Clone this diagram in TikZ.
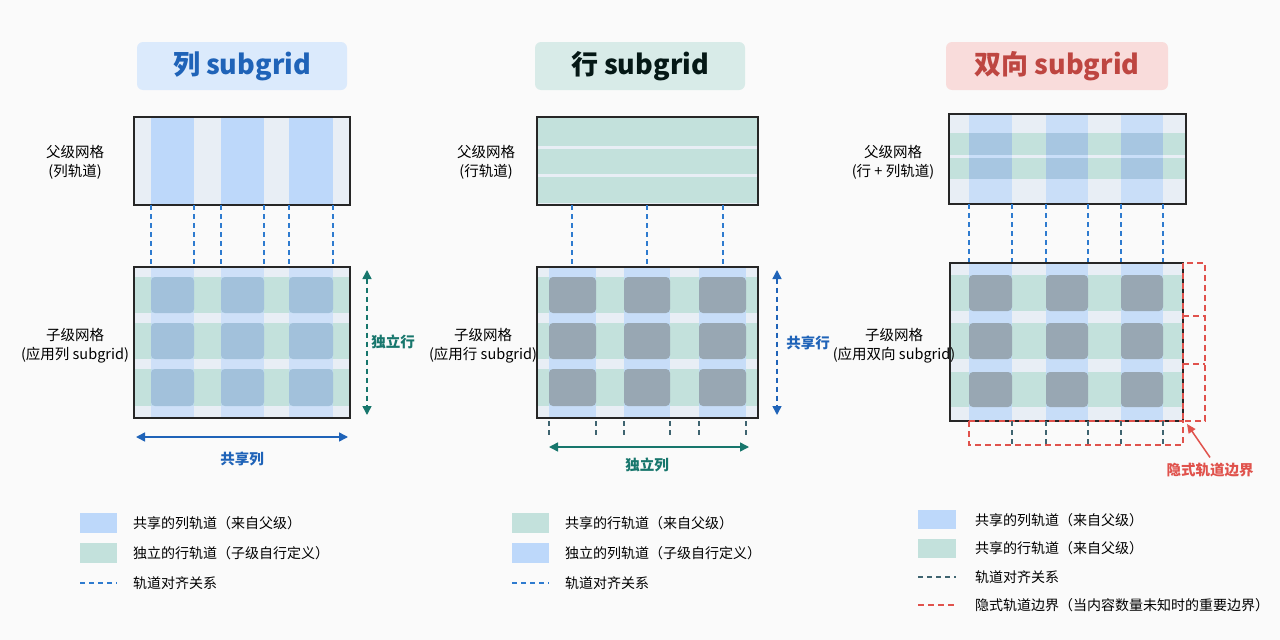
\documentclass[tikz,border=0pt]{standalone}
\usepackage{fontspec}
\setmainfont{Noto Sans CJK SC}
\usetikzlibrary{arrows.meta}
\definecolor{colblue}{HTML}{BDD8FA}
\definecolor{rowgreen}{HTML}{C3E1DC}
\definecolor{gridbg}{HTML}{E8EEF5}
\definecolor{cellblue}{HTML}{A2C1DB}
\definecolor{cellgrey}{HTML}{98A7B3}
\definecolor{linkblue}{HTML}{2E7BCF}
\definecolor{darkblue}{HTML}{1F63B8}
\definecolor{teal}{HTML}{17766C}
\definecolor{implred}{HTML}{E0524C}
\definecolor{tickgrey}{HTML}{3F6470}
\tikzset{
  title/.style={rounded corners=6pt, minimum width=210pt, minimum height=48pt, font=\fontsize{27}{30}\selectfont\bfseries},
  lbl/.style={font=\fontsize{14.5}{19}\selectfont, align=center},
  leg/.style={font=\fontsize{14}{16}\selectfont, anchor=west, inner sep=0pt},
  frame/.style={draw=black!85, line width=1.3pt},
  link/.style={draw=linkblue, line width=1.5pt, dash pattern=on 5pt off 4pt},
  tick/.style={draw=tickgrey, line width=1.4pt, dash pattern=on 5pt off 4pt},
  impl/.style={draw=implred, line width=1.5pt, dash pattern=on 6pt off 4pt},
  cell/.style={rounded corners=4pt},
}
\begin{document}
\begin{tikzpicture}[x=1pt,y=-1pt]
\useasboundingbox (0,0) rectangle (1280,640);
\fill[black!2] (0,0) rectangle (1280,640);

%% ---------- panel 1: column subgrid
\node[title, fill=colblue!55, text=darkblue] (t1) at (242,66) {列 subgrid};
% parent
\fill[gridbg] (134,117) rectangle (350,205);
\foreach \a/\b in {151/194,221/264,289/333} \fill[colblue] (\a,117) rectangle (\b,205);
\draw[frame] (134,117) rectangle (350,205);
\foreach \x in {151,194,221,264,289,333} \draw[link] (\x,205) -- (\x,267);
% child
\fill[gridbg] (134,267) rectangle (350,418);
\foreach \r/\s in {277/313,323/359,369/406} \fill[rowgreen] (134,\r) rectangle (350,\s);
\foreach \a/\b in {151/194,221/264,289/333} \fill[colblue, opacity=.6] (\a,267) rectangle (\b,418);
\foreach \a/\b in {151/194,221/264,289/333}
  \foreach \r/\s in {277/313,323/359,369/406} \fill[cellblue, cell] (\a,\r) rectangle (\b,\s);
\draw[frame] (134,267) rectangle (350,418);
\node[lbl] (p1) at (75,162) {父级网格\\(列轨道)};
\node[lbl] (c1) at (75,346) {子级网格\\(应用列 subgrid)};
\coordinate (v1a) at (367,270); \coordinate (v1b) at (367,415);
\draw[teal, line width=1.5pt, dash pattern=on 5pt off 4pt, {Triangle[length=9pt,width=9pt]}-{Triangle[length=9pt,width=9pt]}] (v1a) -- (v1b);
\node[font=\fontsize{14.5}{17}\selectfont\bfseries, text=teal] (n1) at (393,342) {独立行};
\coordinate (h1a) at (136,437); \coordinate (h1b) at (348,437);
\draw[darkblue, line width=1.5pt, {Triangle[length=9pt,width=9pt]}-{Triangle[length=9pt,width=9pt]}] (h1a) -- (h1b);
\node[font=\fontsize{14.5}{17}\selectfont\bfseries, text=darkblue] (m1) at (242,459) {共享列};

%% ---------- panel 2: row subgrid
\node[title, fill=rowgreen!65, text=black!80!teal] (t2) at (640,66) {行 subgrid};
% parent
\fill[gridbg] (537,117) rectangle (758,205);
\foreach \r/\s in {118/146,149/174,177/203} \fill[rowgreen] (537,\r) rectangle (758,\s);
\draw[frame] (537,117) rectangle (758,205);
\foreach \x in {572,647,723} \draw[link] (\x,205) -- (\x,267);
% child
\fill[gridbg] (537,267) rectangle (758,418);
\foreach \r/\s in {277/313,323/359,369/406} \fill[rowgreen] (537,\r) rectangle (758,\s);
\foreach \a/\b in {549/596,624/670,699/746} \fill[colblue, opacity=.75] (\a,267) rectangle (\b,418);
\foreach \a/\b in {549/596,624/670,699/746}
  \foreach \r/\s in {277/313,323/359,369/406} \fill[cellgrey, cell] (\a,\r) rectangle (\b,\s);
\draw[frame] (537,267) rectangle (758,418);
\foreach \x in {549,596,624,670,699,746} \draw[tick] (\x,421) -- (\x,436);
\node[lbl] (p2) at (486,162) {父级网格\\(行轨道)};
\node[lbl] (c2) at (483,346) {子级网格\\(应用行 subgrid)};
\coordinate (v2a) at (777,270); \coordinate (v2b) at (777,415);
\draw[darkblue, line width=1.5pt, dash pattern=on 5pt off 4pt, {Triangle[length=9pt,width=9pt]}-{Triangle[length=9pt,width=9pt]}] (v2a) -- (v2b);
\node[font=\fontsize{14.5}{17}\selectfont\bfseries, text=darkblue] (n2) at (808,343) {共享行};
\coordinate (h2a) at (549,447); \coordinate (h2b) at (749,447);
\draw[teal, line width=1.5pt, {Triangle[length=9pt,width=9pt]}-{Triangle[length=9pt,width=9pt]}] (h2a) -- (h2b);
\node[font=\fontsize{14.5}{17}\selectfont\bfseries, text=teal] (m2) at (647,465) {独立列};

%% ---------- panel 3: both directions
\node[title, minimum width=222pt, fill=implred!20, text=implred!85!black] (t3) at (1057,66) {双向 subgrid};
% parent
\fill[gridbg] (949,114) rectangle (1186,204);
\foreach \r/\s in {133/155,158/179} \fill[rowgreen] (949,\r) rectangle (1186,\s);
\foreach \a/\b in {969/1012,1046/1088,1121/1163} \fill[colblue, opacity=.7] (\a,114) rectangle (\b,204);
\foreach \a/\b in {969/1012,1046/1088,1121/1163}
  \foreach \r/\s in {133/155,158/179} \fill[cellblue!80!colblue] (\a,\r) rectangle (\b,\s);
\draw[frame] (949,114) rectangle (1186,204);
\foreach \x in {969,1012,1046,1088,1121,1163} \draw[link] (\x,204) -- (\x,263);
% child
\fill[gridbg] (950,263) rectangle (1183,421);
\foreach \r/\s in {275/311,323/359,372/407} \fill[rowgreen] (950,\r) rectangle (1183,\s);
\foreach \a/\b in {969/1012,1046/1088,1121/1163} \fill[colblue, opacity=.75] (\a,263) rectangle (\b,421);
\foreach \a/\b in {969/1012,1046/1088,1121/1163}
  \foreach \r/\s in {275/311,323/359,372/407} \fill[cellgrey, cell] (\a,\r) rectangle (\b,\s);
\draw[frame] (950,263) rectangle (1183,421);
% implicit tracks
\draw[impl] (1183,263) rectangle (1205,421);
\foreach \y in {316,364} \draw[impl] (1183,\y) -- (1205,\y);
\draw[impl] (969,421) rectangle (1183,445);
\foreach \x in {1012,1046,1088,1121,1163} \draw[tick] (\x,421) -- (\x,445);
\node[lbl] (p3) at (893,162) {父级网格\\(行 + 列轨道)};
\node[lbl] (c3) at (894,346) {子级网格\\(应用双向 subgrid)};
\node[font=\fontsize{14.5}{17}\selectfont\bfseries, text=implred] (m3) at (1210,470) {隐式轨道边界};
\coordinate (imp) at (1187,424);
\draw[implred, line width=1.5pt, -{Triangle[length=9pt,width=8pt]}] (m3.north) ++(0,-2) -- (imp);

%% ---------- legends
\foreach \x/\ca/\ta/\cb/\tb in {80/colblue/共享的列轨道（来自父级）/rowgreen/独立的行轨道（子级自行定义）,
                                512/rowgreen/共享的行轨道（来自父级）/colblue/独立的列轨道（子级自行定义）}{
  \fill[\ca] (\x,513) rectangle ++(37,20);
  \node[leg] at (\x+53,523) {\ta};
  \fill[\cb] (\x,543) rectangle ++(37,20);
  \node[leg] at (\x+53,553) {\tb};
  \draw[link] (\x,583) -- ++(37,0);
  \node[leg] at (\x+53,583) {轨道对齐关系};
}
\fill[colblue] (918,510) rectangle (956,529);
\node[leg] (l31) at (975,520) {共享的列轨道（来自父级）};
\fill[rowgreen] (918,539) rectangle (956,558);
\node[leg] (l32) at (975,548) {共享的行轨道（来自父级）};
\draw[tick] (918,577) -- (956,577);
\node[leg] (l33) at (975,577) {轨道对齐关系};
\draw[impl] (918,605) -- (956,605);
\node[leg] (l34) at (975,605) {隐式轨道边界（当内容数量未知时的重要边界）};
\end{tikzpicture}
\end{document}
